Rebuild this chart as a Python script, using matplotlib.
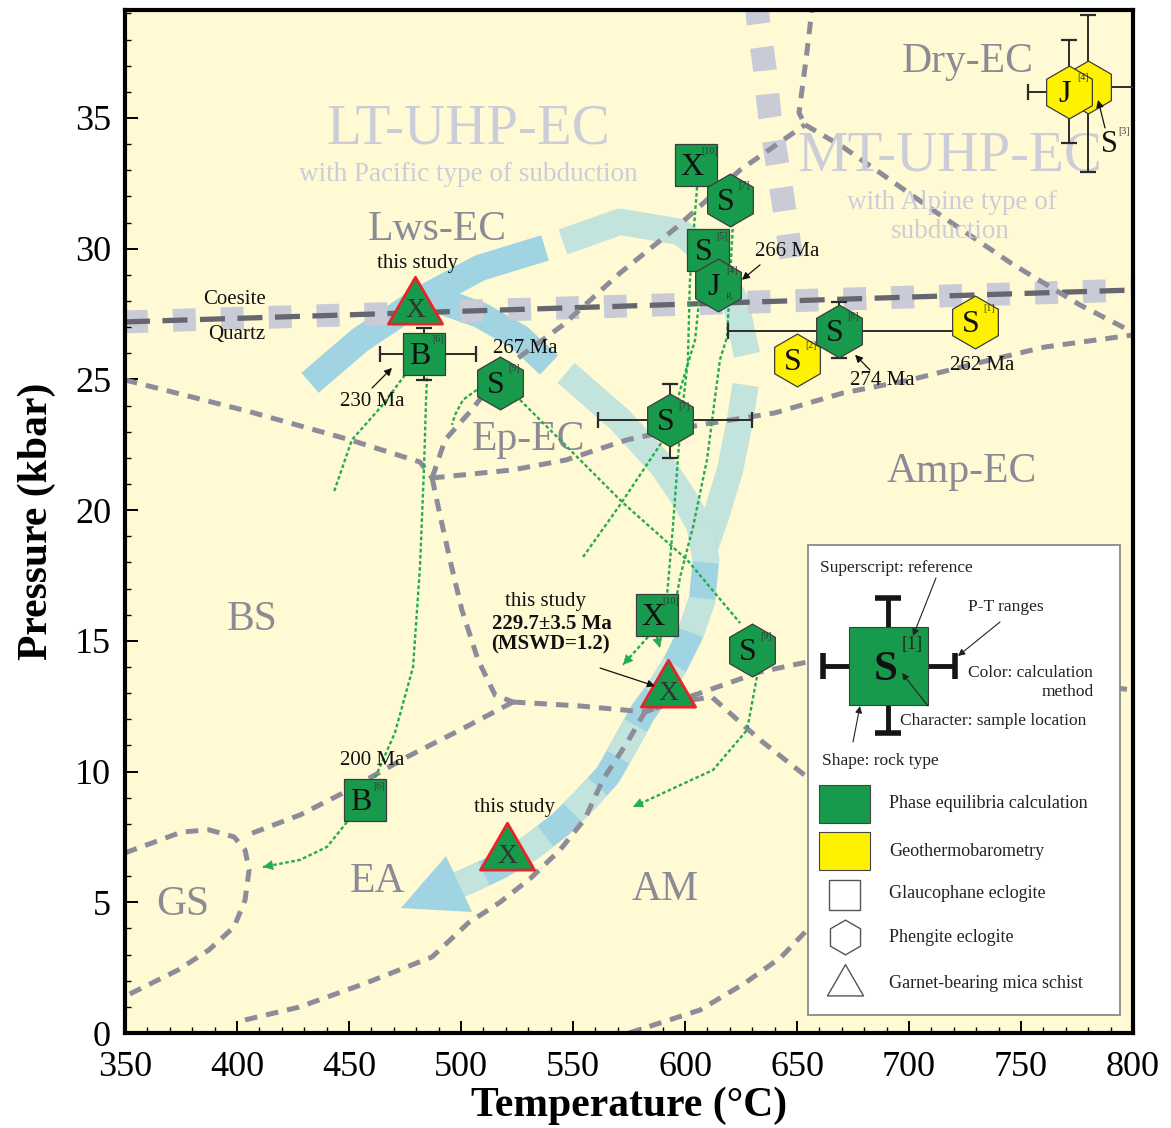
import numpy as np
import matplotlib
matplotlib.use('Agg')
import matplotlib.pyplot as plt
from matplotlib.patches import Polygon, Rectangle
from matplotlib.path import Path
from matplotlib.ticker import MultipleLocator

plt.rcParams['font.family'] = ['Liberation Serif', 'DejaVu Serif']
plt.rcParams['lines.scale_dashes'] = False

# ---------------- data (T in degC, P in kbar) ----------------
xticks = [350, 400, 450, 500, 550, 600, 650, 700, 750, 800]
yticks = [0, 5, 10, 15, 20, 25, 30, 35]

# facies boundaries
bs_lws_T = [350, 405.8, 450.4, 481.7, 487.1]
bs_lws_P = [24.98, 23.76, 22.69, 21.84, 21.23]
lws_ep_T = [487.1, 492.9, 504.0, 520.1, 545.5, 571.0, 596.4, 624.6, 653.6]
lws_ep_P = [21.23, 22.69, 23.76, 25.48, 27.08, 29.07, 30.83, 33.01, 34.74]
ep_amp_T = [487.1, 523.2, 546.9, 574.1, 606.7, 640.2, 670.5, 700.4, 730.8, 760.7, 800]
ep_amp_P = [21.23, 21.54, 21.92, 22.69, 23.26, 23.72, 24.48, 24.98, 25.63, 26.24, 26.70]
mt_T = [653.6, 670.5, 685.3, 712.5, 746.0, 776.3, 800]
mt_P = [34.74, 33.89, 33.01, 31.37, 29.42, 27.85, 26.80]
top_T = [657.0, 656.3, 654.0, 650.9, 653.6]
top_P = [39.5, 38.87, 37.22, 35.2, 34.74]
ep_ea_T = [487.1, 490.6, 495.1, 500.4, 507.6, 515.2, 523.2]
ep_ea_P = [21.23, 19.82, 18.09, 16.18, 14.27, 12.93, 12.66]
ea_mid_T = [523.2, 553.1, 582.1, 593.3]
ea_mid_P = [12.66, 12.51, 12.28, 12.62]
ea_am_T = [403.6, 427.7, 457.6, 487.1, 503.1, 517.4, 530.8, 544.2, 555.4, 563.4, 574.1, 582.1, 593.3]
ea_am_P = [0.50, 0.99, 1.91, 2.91, 4.20, 5.00, 5.90, 7.00, 8.20, 9.70, 11.10, 12.28, 12.62]
am_up_T = [593.3, 606.7, 633.5, 654.5, 722.8, 800]
am_up_P = [12.62, 13.0, 13.81, 14.19, 13.89, 13.12]
am_dn_T = [593.3, 612.0, 633.5, 654.5, 682.6, 696.0]
am_dn_P = [12.62, 12.85, 11.21, 9.79, 7.77, 6.6]
am_low_T = [575.0, 606.7, 626.8, 642.9, 654.5, 673.7]
am_low_P = [0.0, 0.88, 1.91, 2.90, 3.94, 5.85]
bs_ea_T = [523.2, 499.6, 475.9, 447.3, 428.1, 404.5]
bs_ea_P = [12.66, 11.59, 10.56, 9.18, 8.34, 7.57]
gs_T = [350, 375.4, 387.5, 398.7, 403.6, 405.4, 403.6, 398.7, 387.5, 373.7, 350]
gs_P = [6.89, 7.69, 7.77, 7.50, 7.00, 6.24, 5.09, 4.06, 3.18, 2.41, 1.40]

coesite_T = [350, 800]
coesite_P = [27.2, 28.42]
uhp_T = [632.0, 632.6, 635.7, 637.9, 641.5, 644.6, 647.8, 649.1]
uhp_P = [39.5, 38.75, 36.84, 35.04, 33.13, 31.37, 29.46, 28.8]

# P-T path bands
outer1_T = [432.6, 454.9, 481.7, 508.5, 537.5]
outer1_P = [24.87, 26.51, 28.04, 29.27, 30.03]
outer2_T = [545.5, 571.0, 597.8, 612.1, 622.3, 627.7]
outer2_P = [30.26, 31.03, 30.64, 29.65, 28.04, 25.94]
outer3_T = [627.0, 624.6, 620.1, 614.7, 609.4]
outer3_P = [24.79, 23.45, 21.54, 20.01, 18.67]
inner1_T = [486.6, 508.5, 526.3, 539.3]
inner1_P = [28.12, 27.47, 26.59, 25.55]
inner2_T = [546.9, 571.0, 590.2, 600.1, 606.7]
inner2_P = [25.25, 23.45, 21.65, 20.39, 19.36]
retro_T = [606.7, 609.4, 607.6, 602.2, 595.5, 587.9, 581.3, 573.2, 565.6, 555.4, 544.2, 530.8, 517.4, 504.0, 497.3]
retro_P = [19.36, 18.09, 16.56, 15.23, 14.08, 13.05, 12.28, 11.02, 9.87, 8.91, 7.96, 7.08, 6.39, 5.85, 5.62]
head_T = [473.2, 493.3, 504.9]
head_P = [4.78, 6.77, 4.63]

# green dotted P-T paths
path_a_T = [484.8, 484.4, 483.5, 481.7, 478.6, 470.5, 461.2]
path_a_P = [25.06, 24.22, 21.65, 17.83, 14.0, 11.48, 9.68]
path_a2_T = [475.0, 464.3, 451.3, 443.3]
path_a2_P = [25.17, 23.95, 22.69, 20.7]
path_b_T = [449.1, 440.2, 428.1, 411.6]
path_b_P = [8.07, 7.12, 6.62, 6.35]
path_c1_T = [507.1, 500.9, 497.3, 496.0]
path_c1_P = [24.6, 24.22, 23.64, 23.26]
path_c2_T = [526.3, 544.2, 572.3, 600.9, 624.6]
path_c2_P = [24.22, 22.69, 20.28, 18.1, 15.68]
path_c3_T = [632.1, 627.7, 612.5, 593.3, 576.8]
path_c3_P = [13.62, 11.59, 10.06, 9.3, 8.65]
path_p1_T = [605.4, 602.2, 601.3, 597.8, 594.6, 592.0]
path_p1_P = [32.36, 28.81, 25.75, 23.07, 19.36, 16.76]
path_p2_T = [607.6, 604.5, 599.1, 594.2, 588.8, 571.0, 554.5]
path_p2_P = [29.11, 26.51, 24.98, 23.45, 22.49, 20.2, 18.21]
path_p3_T = [621.4, 618.8, 615.6, 609.8, 603.6, 597.8, 596.4]
path_p3_P = [30.99, 26.63, 25.75, 21.92, 19.36, 17.44, 16.76]
path_x1_T = [583.5, 572.3]
path_x1_P = [15.15, 14.08]
path_x2_T = [587.5, 588.8]
path_x2_P = [15.15, 14.73]

# samples (drawing order)
mk_T = [780.0, 771.4, 650.0, 668.75, 729.5, 604.9, 620.1, 610.3, 614.7, 479.5, 483.5, 517.4, 593.3, 587.5, 629.9, 592.4, 457.1, 520.5]
mk_P = [36.2, 36.0, 25.75, 26.86, 27.2, 33.2, 31.87, 29.95, 28.62, 27.75, 25.98, 24.87, 23.45, 15.99, 14.65, 13.08, 8.91, 6.85]
mk_shape = ['h', 'h', 'h', 'h', 'h', 's', 'h', 's', 'h', 't', 's', 'h', 'h', 's', 'h', 't', 's', 't']
mk_method = ['geo', 'geo', 'geo', 'pe', 'geo', 'pe', 'pe', 'pe', 'pe', 'pe', 'pe', 'pe', 'pe', 'pe', 'pe', 'pe', 'pe', 'pe']
mk_letter = ['', 'J', 'S', 'S', 'S', 'X', 'S', 'S', 'J', 'X', 'B', 'S', 'S', 'X', 'S', 'X', 'B', 'X']
mk_ref = ['', '[4]', '[2]', '[8]', '[1]', '[10]', '[7]', '[5]', '[4]', '', '[6]', '[9]', '[7]', '[10]', '[9]', '', '[6]', '']

# P-T ranges (error bars)
eb_T = [780.0, 771.4, 483.5, 593.3, 668.75]
eb_P = [36.2, 36.0, 25.98, 23.45, 26.86]
eb_Tlo = [772.0, 753.1, 463.8, 561.2, 619.2]
eb_Thi = [812.0, 789.7, 506.7, 629.9, 722.0]
eb_Plo = [32.94, 34.05, 24.98, 22.0, 25.82]
eb_Phi = [38.94, 37.99, 26.97, 24.83, 27.96]

# labels
region_names = ['Dry-EC', 'Lws-EC', 'Ep-EC', 'Amp-EC', 'BS', 'EA', 'AM', 'GS']
region_T = [726.3, 489.3, 529.9, 723.7, 406.7, 462.9, 591.1, 375.9]
region_P = [37.15, 30.72, 22.69, 21.46, 15.8, 5.78, 5.47, 4.9]
uhp_names = ['LT-UHP-EC', 'MT-UHP-EC']
uhp_lab_T = [503.1, 718.3]
uhp_lab_P = [34.54, 33.51]
sub_names = ['with Pacific type of subduction', 'with Alpine type of', 'subduction']
sub_T = [503.1, 719.2, 718.3]
sub_P = [32.82, 31.75, 30.64]
note_txt = ['Coesite', 'Quartz', 'this study', '267 Ma', '262 Ma', 'this study', '200 Ma', 'this study', '230 Ma', '266 Ma', '274 Ma']
note_T = [399.1, 400.0, 480.8, 528.6, 732.6, 537.5, 460.3, 524.1, 460.3, 645.5, 688.0]
note_P = [28.04, 26.7, 29.42, 26.17, 25.55, 16.49, 10.44, 8.61, 24.14, 29.88, 24.94]
age_txt = ['229.7\u00b13.5 Ma', '(MSWD=1.2)']
age_T = [540.5, 540.0]
age_P = [15.65, 14.85]
# pointer arrows (tail -> head)
ptr_tail_T = [460.3, 633.5, 682.6, 562.1, 787.5]
ptr_tail_P = [24.67, 29.38, 25.36, 13.96, 34.62]
ptr_head_T = [469.2, 625.4, 675.9, 586.6, 784.4]
ptr_head_P = [25.44, 28.81, 25.94, 13.27, 35.69]

legend_items = ['Phase equilibria calculation', 'Geothermobarometry', 'Glaucophane eclogite',
                'Phengite eclogite', 'Garnet-bearing mica schist']

# ---------------- styles ----------------
BG = '#fffad4'
GREEN = '#179a4b'
YELLOW = '#fff200'
FAC = '#8d8d9a'
LIGHT = '#c9ccd7'
PATHG = '#22ad52'
BLUE = '#a0d4e2'
TEAL = '#c3e4dc'
TRI = Path([(0, 0.5774), (-0.5, -0.2887), (0.5, -0.2887), (0, 0.5774)], closed=True)

fig = plt.figure(figsize=(11.71, 11.28), dpi=100)
ax = fig.add_axes([125 / 1171, 95 / 1128, 1008 / 1171, 1023 / 1128])
ax.set_facecolor(BG)
ax.set_xlim(350, 800)
ax.set_ylim(0, 39.13)

# bands
bw = 19
for T, P, c in [(outer1_T, outer1_P, BLUE), (outer2_T, outer2_P, TEAL), (outer3_T, outer3_P, TEAL),
                (inner1_T, inner1_P, BLUE), (inner2_T, inner2_P, TEAL)]:
    ax.plot(T, P, color=c, lw=bw, solid_capstyle='butt', zorder=1)
ax.plot(retro_T, retro_P, color=BLUE, lw=bw, solid_capstyle='butt', zorder=1)
ax.plot(retro_T, retro_P, color=TEAL, lw=bw, dashes=(26, 26), dash_capstyle='butt', zorder=1.1)
ax.add_patch(Polygon(np.column_stack([head_T, head_P]), closed=True, fc=BLUE, ec='none', zorder=1.2))

# coesite-quartz and UHP limit
ax.plot(coesite_T, coesite_P, color=LIGHT, lw=16.5, dashes=(16.5, 18), dash_capstyle='butt', zorder=1.5)
ax.plot(coesite_T, coesite_P, color='#666670', lw=3.8, dashes=(18, 9), zorder=1.6)
ax.plot(uhp_T, uhp_P, color=LIGHT, lw=17, dashes=(17, 17), dash_capstyle='butt', zorder=1.5)

# facies boundaries
for T, P in [(bs_lws_T, bs_lws_P), (lws_ep_T, lws_ep_P), (ep_amp_T, ep_amp_P), (mt_T, mt_P),
             (top_T, top_P), (ep_ea_T, ep_ea_P), (ea_mid_T, ea_mid_P), (ea_am_T, ea_am_P),
             (am_up_T, am_up_P), (am_dn_T, am_dn_P), (am_low_T, am_low_P), (bs_ea_T, bs_ea_P),
             (gs_T, gs_P)]:
    ax.plot(T, P, color=FAC, lw=3.6, dashes=(9, 6.5), zorder=2)

# green dotted P-T paths
paths = [(path_a_T, path_a_P, False), (path_a2_T, path_a2_P, False), (path_b_T, path_b_P, True),
         (path_c1_T, path_c1_P, False), (path_c2_T, path_c2_P, False), (path_c3_T, path_c3_P, True),
         (path_p1_T, path_p1_P, False), (path_p2_T, path_p2_P, False), (path_p3_T, path_p3_P, False),
         (path_x1_T, path_x1_P, True), (path_x2_T, path_x2_P, True)]
for T, P, arr in paths:
    ax.plot(T, P, color=PATHG, lw=1.7, dashes=(2.6, 1.8), zorder=3)
    if arr:
        ax.annotate('', xy=(T[-1], P[-1]), xytext=(T[-1] + 0.2 * (T[-2] - T[-1]), P[-1] + 0.2 * (P[-2] - P[-1])),
                    arrowprops=dict(arrowstyle='-|>', color=PATHG, lw=0.5, mutation_scale=16,
                                    shrinkA=0, shrinkB=0), zorder=3)

# error bars
for i in range(len(eb_T)):
    ax.errorbar([eb_T[i]], [eb_P[i]],
                xerr=[[eb_T[i] - eb_Tlo[i]], [eb_Thi[i] - eb_T[i]]],
                yerr=[[eb_P[i] - eb_Plo[i]], [eb_Phi[i] - eb_P[i]]],
                fmt='none', ecolor='#2b2b2b', elinewidth=1.4, capsize=5.5, capthick=1.6, zorder=4)

# sample markers
for i in range(len(mk_T)):
    fc = GREEN if mk_method[i] == 'pe' else YELLOW
    shp = mk_shape[i]
    z = 5 + i * 0.01
    if shp == 'h':
        ax.plot(mk_T[i], mk_P[i], marker='h', ms=38, mfc=fc, mec='#3c3c3c', mew=0.9, ls='none', zorder=z)
        off = (-3, -2)
    elif shp == 's':
        ax.plot(mk_T[i], mk_P[i], marker='s', ms=30, mfc=fc, mec='#3c3c3c', mew=0.9, ls='none', zorder=z)
        off = (-3, -2)
    else:
        ax.plot(mk_T[i], mk_P[i], marker=TRI, ms=45, mfc=fc, mec='#e8232a', mew=2.0, ls='none', zorder=z)
        off = (0, -2)
    if mk_letter[i]:
        col = '#111111' if shp != 't' else '#333333'
        fs = 23 if shp != 't' else 20
        ax.annotate(mk_letter[i], (mk_T[i], mk_P[i]), xytext=off, textcoords='offset points',
                    ha='center', va='center', fontsize=fs, color=col, zorder=z + 0.005)
    if mk_ref[i]:
        ax.annotate(mk_ref[i], (mk_T[i], mk_P[i]), xytext=(10, 10), textcoords='offset points',
                    ha='center', va='center', fontsize=7.2, color='#3a3a3a', zorder=z + 0.005)
# subscript R on J
ax.annotate('R', (mk_T[8], mk_P[8]), xytext=(8, -9), textcoords='offset points', ha='center',
            va='center', fontsize=6.5, color='#3a3a3a', zorder=6)
# S[3] label outside its marker
ax.annotate('S', (789.7, 33.97), ha='center', va='center', fontsize=22, color='#111111', zorder=6)
ax.annotate('[3]', (789.7, 33.97), xytext=(10, 10), textcoords='offset points', ha='center',
            va='center', fontsize=7.2, color='#3a3a3a', zorder=6)

# pointer arrows
for i in range(len(ptr_tail_T)):
    ax.annotate('', xy=(ptr_head_T[i], ptr_head_P[i]), xytext=(ptr_tail_T[i], ptr_tail_P[i]),
                arrowprops=dict(arrowstyle='-|>', color='#111111', lw=0.9, mutation_scale=11,
                                shrinkA=0, shrinkB=0), zorder=7)

# region labels
for s, T, P in zip(region_names, region_T, region_P):
    ax.text(T, P, s, ha='center', va='center', fontsize=30, color='#8b8b96', zorder=2.5)
for s, T, P in zip(uhp_names, uhp_lab_T, uhp_lab_P):
    ax.text(T, P, s, ha='center', va='center', fontsize=41, color='#cbcdd9', zorder=2.4)
for s, T, P in zip(sub_names, sub_T, sub_P):
    ax.text(T, P, s, ha='center', va='center', fontsize=19.5, color='#cbcdd9', zorder=2.4)
for s, T, P in zip(note_txt, note_T, note_P):
    ax.text(T, P, s, ha='center', va='center', fontsize=15, color='#111111', zorder=7)
for s, T, P in zip(age_txt, age_T, age_P):
    ax.text(T, P, s, ha='center', va='center', fontsize=15, fontweight='bold', color='#111111', zorder=7)

# axes styling
ax.set_xticks(xticks)
ax.set_yticks(yticks)
ax.xaxis.set_minor_locator(MultipleLocator(10))
ax.yaxis.set_minor_locator(MultipleLocator(1))
ax.tick_params(which='both', direction='in', top=False, right=False)
ax.tick_params(which='major', length=9, width=1.4, labelsize=26)
ax.tick_params(axis='x', which='major', pad=13)
ax.tick_params(axis='y', which='major', pad=10)
ax.tick_params(which='minor', length=4.5, width=1.0)
for sp in ax.spines.values():
    sp.set_linewidth(3)
ax.set_xlabel('Temperature (\u00b0C)', fontsize=30, fontweight='bold', labelpad=2)
ax.set_ylabel('Pressure (kbar)', fontsize=30, fontweight='bold', labelpad=14)

# ---------------- key (drawn in axes fraction) ----------------
def A(px, py):
    return ((px - 125) / 1008, (1033 - py) / 1023)

tA = ax.transAxes
x0, y0 = A(808, 1015)
x1, y1 = A(1120, 545)
ax.add_patch(Rectangle((x0, y0), x1 - x0, y1 - y0, transform=tA, fc='white', ec='#8a8a8a', lw=1.3, zorder=10))

def seg(p, q, lw=3.5):
    a, b = A(*p), A(*q)
    ax.plot([a[0], b[0]], [a[1], b[1]], color='#151515', lw=lw, transform=tA, zorder=10.5, solid_capstyle='butt')

seg((888, 598), (888, 733))
seg((823, 666), (955, 666))
seg((875, 598), (901, 598), 4)
seg((875, 733), (901, 733), 4)
seg((823, 653), (823, 679), 4)
seg((955, 653), (955, 679), 4)
sx, sy = A(849, 705)
sx2, sy2 = A(928, 627)
ax.add_patch(Rectangle((sx, sy), sx2 - sx, sy2 - sy, transform=tA, fc=GREEN, ec='#3c3c3c', lw=0.8, zorder=11))
ax.text(*A(886, 670), 'S', transform=tA, ha='center', va='center', fontsize=31, fontweight='bold', color='#111111', zorder=12)
ax.text(*A(912, 645), '[1]', transform=tA, ha='center', va='center', fontsize=13, color='#222222', zorder=12)

key_txt = [('Superscript: reference', (820, 568), 'left'), ('P-T ranges', (968, 607), 'left'),
           ('Color: calculation', (968, 673), 'left'), ('method', (1094, 692), 'right'),
           ('Character: sample location', (900, 721), 'left'), ('Shape: rock type', (822, 761), 'left')]
for s, p, ha in key_txt:
    ax.text(*A(*p), s, transform=tA, ha=ha, va='center', fontsize=12.5, color='#222222', zorder=12)
for tail, head in [((936, 578), (913, 636)), ((1000, 622), (958, 656)), ((928, 706), (902, 673)),
                   ((853, 742), (860, 706))]:
    ax.annotate('', xy=A(*head), xytext=A(*tail), xycoords='axes fraction',
                arrowprops=dict(arrowstyle='-|>', color='#222222', lw=0.8, mutation_scale=10,
                                shrinkA=0, shrinkB=0), zorder=12)

gx, gy = A(819, 823)
gx2, gy2 = A(870, 785)
ax.add_patch(Rectangle((gx, gy), gx2 - gx, gy2 - gy, transform=tA, fc=GREEN, ec='#444444', lw=0.8, zorder=11))
gx, gy = A(819, 870)
gx2, gy2 = A(870, 832)
ax.add_patch(Rectangle((gx, gy), gx2 - gx, gy2 - gy, transform=tA, fc=YELLOW, ec='#444444', lw=0.8, zorder=11))
gx, gy = A(829, 910)
gx2, gy2 = A(860, 880)
ax.add_patch(Rectangle((gx, gy), gx2 - gx, gy2 - gy, transform=tA, fc='white', ec='#555555', lw=1.0, zorder=11))
hx, hy = A(845, 937)
ax.plot([hx], [hy], marker='h', ms=25, mfc='white', mec='#555555', mew=1.0, transform=tA, zorder=11, clip_on=False)
tx, ty = A(845, 985)
ax.plot([tx], [ty], marker=TRI, ms=30, mfc='white', mec='#555555', mew=1.0, transform=tA, zorder=11, clip_on=False)
for s, py in zip(legend_items, [804, 851, 894, 937, 983]):
    ax.text(*A(889, py), s, transform=tA, ha='left', va='center', fontsize=13, color='#222222', zorder=12)

fig.savefig('out.png', dpi=100, facecolor='white')
